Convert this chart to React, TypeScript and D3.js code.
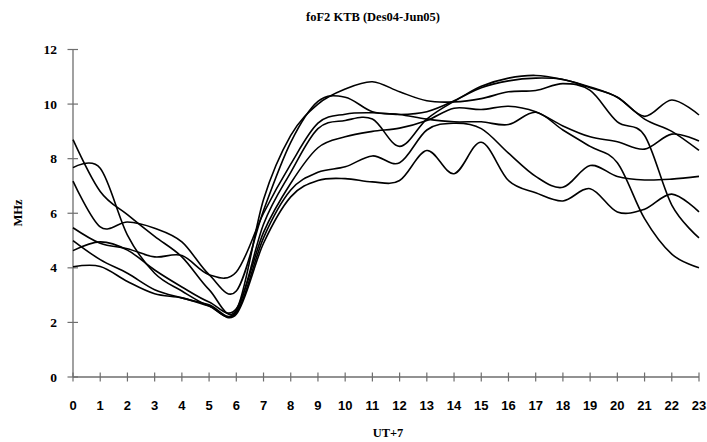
import React, { useEffect, useRef } from 'react';
import * as d3 from 'd3';

// hours (UT+7)
const hours = [0, 1, 2, 3, 4, 5, 6, 7, 8, 9, 10, 11, 12, 13, 14, 15, 16, 17, 18, 19, 20, 21, 22, 23];
const yTicks = [0, 2, 4, 6, 8, 10, 12];

// foF2 (MHz), one line per month
const dec04 = [8.7, 6.8, 5.95, 5.15, 4.4, 3.2, 2.45, 6.5, 8.85, 10.0, 10.55, 10.82, 10.45, 10.12, 10.08, 10.2, 10.45, 10.5, 10.75, 10.5, 9.35, 8.85, 6.3, 5.1];
const jan05 = [7.18, 5.5, 5.68, 5.45, 4.95, 3.75, 3.15, 6.1, 8.6, 10.1, 10.25, 9.72, 9.62, 9.45, 9.35, 9.35, 9.25, 9.7, 9.05, 8.45, 7.85, 5.8, 4.5, 4.0];
const feb05 = [5.47, 4.9, 4.7, 4.4, 4.45, 3.75, 3.85, 6.0, 7.8, 9.3, 9.63, 9.68, 9.62, 9.72, 10.12, 10.65, 10.95, 11.05, 10.9, 10.63, 10.25, 9.55, 10.15, 9.6];
const mar05 = [7.67, 7.65, 5.2, 3.8, 3.15, 2.6, 2.4, 5.6, 7.5, 9.1, 9.4, 9.45, 8.45, 9.45, 10.1, 10.6, 10.85, 10.95, 10.9, 10.6, 10.25, 9.45, 9.0, 8.3];
const apr05 = [4.63, 4.95, 4.65, 3.92, 3.3, 2.75, 2.5, 5.3, 7.1, 8.4, 8.8, 9.0, 9.12, 9.4, 9.85, 9.8, 9.92, 9.72, 9.2, 8.8, 8.62, 8.35, 8.9, 8.65];
const may05 = [5.0, 4.3, 3.8, 3.2, 2.9, 2.65, 2.35, 5.1, 6.85, 7.5, 7.7, 8.1, 7.85, 9.05, 9.3, 9.1, 8.2, 7.35, 6.95, 7.75, 7.35, 7.22, 7.25, 7.35];
const jun05 = [4.04, 4.05, 3.5, 3.05, 2.9, 2.6, 2.3, 4.9, 6.6, 7.2, 7.27, 7.15, 7.2, 8.3, 7.45, 8.6, 7.2, 6.75, 6.45, 6.9, 6.05, 6.15, 6.7, 6.05];

const series = [dec04, jan05, feb05, mar05, apr05, may05, jun05];

const SERIF = '"Liberation Serif", "Times New Roman", serif';
const SANS = '"Liberation Sans", Arial, sans-serif';

const App = () => {
  const svgRef = useRef(null);

  useEffect(() => {
    const svg = d3.select(svgRef.current);
    svg.selectAll('*').remove();

    const width = 707;
    const height = 442;
    const marginLeft = 73;
    const marginRight = 8;
    const marginTop = 49.5;
    const marginBottom = 65;

    const x = d3.scaleLinear([0, 23], [marginLeft, width - marginRight]);
    const y = d3.scaleLinear([0, 12], [height - marginBottom, marginTop]);

    const axisColor = '#6e6e6e';

    // x axis
    const gx = svg.append('g').attr('transform', `translate(0,${y(0)})`);
    gx.append('line')
      .attr('x1', x(0)).attr('x2', x(23))
      .attr('stroke', axisColor).attr('stroke-width', 1.3);
    gx.selectAll('line.tick')
      .data(hours)
      .join('line')
      .attr('class', 'tick')
      .attr('x1', d => x(d)).attr('x2', d => x(d))
      .attr('y1', -4.5).attr('y2', 4.5)
      .attr('stroke', axisColor).attr('stroke-width', 1.2);
    gx.selectAll('text')
      .data(hours)
      .join('text')
      .attr('x', d => x(d))
      .attr('y', 33)
      .attr('text-anchor', 'middle')
      .attr('font-family', SANS)
      .attr('font-weight', 'bold')
      .attr('font-size', 13)
      .text(d => d);

    // y axis
    const gy = svg.append('g').attr('transform', `translate(${x(0)},0)`);
    gy.append('line')
      .attr('y1', y(0)).attr('y2', y(12))
      .attr('stroke', axisColor).attr('stroke-width', 1.3);
    gy.selectAll('line.tick')
      .data(yTicks)
      .join('line')
      .attr('class', 'tick')
      .attr('y1', d => y(d)).attr('y2', d => y(d))
      .attr('x1', -5.5).attr('x2', 5)
      .attr('stroke', axisColor).attr('stroke-width', 1.2);
    gy.selectAll('text')
      .data(yTicks)
      .join('text')
      .attr('x', -16)
      .attr('y', d => y(d) + 4.5)
      .attr('text-anchor', 'end')
      .attr('font-family', SERIF)
      .attr('font-weight', 'bold')
      .attr('font-size', 13.5)
      .text(d => d);

    // lines
    const line = d3.line()
      .x((d, i) => x(hours[i]))
      .y(d => y(d))
      .curve(d3.curveCardinal.tension(0));

    svg.append('g')
      .selectAll('path')
      .data(series)
      .join('path')
      .attr('fill', 'none')
      .attr('stroke', '#000')
      .attr('stroke-width', 1.6)
      .attr('d', d => line(d));

    // titles
    svg.append('text')
      .attr('x', 373).attr('y', 21)
      .attr('text-anchor', 'middle')
      .attr('font-family', SERIF)
      .attr('font-weight', 'bold')
      .attr('font-size', 12.5)
      .text('foF2 KTB (Des04-Jun05)');

    svg.append('text')
      .attr('x', 388).attr('y', 437)
      .attr('text-anchor', 'middle')
      .attr('font-family', SERIF)
      .attr('font-weight', 'bold')
      .attr('font-size', 12.5)
      .text('UT+7');

    svg.append('text')
      .attr('transform', `translate(22,${213}) rotate(-90)`)
      .attr('text-anchor', 'middle')
      .attr('font-family', SERIF)
      .attr('font-weight', 'bold')
      .attr('font-size', 12.5)
      .text('MHz');
  }, []);

  return (
    <svg
      ref={svgRef}
      width={707}
      height={442}
      viewBox="0 0 707 442"
      style={{ position: 'absolute', left: 0, top: 0, background: '#fff' }}
    />
  );
};

export default App;
